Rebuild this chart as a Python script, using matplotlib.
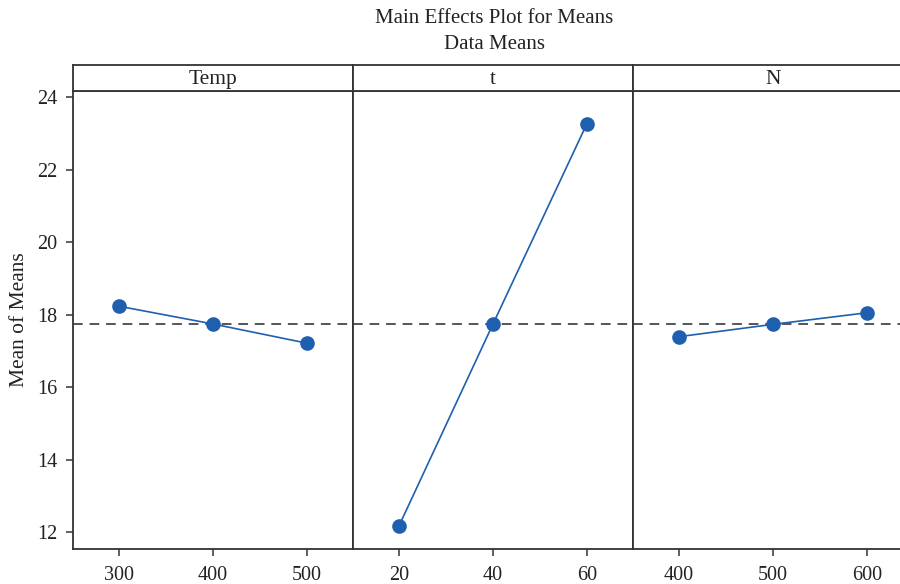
import matplotlib.pyplot as plt

plt.rcParams['font.family'] = ['Liberation Serif', 'DejaVu Serif']

# factor names, levels and mean responses
factors = ['Temp', 't', 'N']
levels = [[300, 400, 500], [20, 40, 60], [400, 500, 600]]
means = [[18.23, 17.74, 17.21], [12.17, 17.74, 23.27], [17.39, 17.73, 18.05]]
grand_mean = 17.73
y_ticks = [12, 14, 16, 18, 20, 22, 24]

line_col = '#1f5faf'
frame_col = '#333333'
text_col = '#222222'

fig = plt.figure(figsize=(9, 5.84), dpi=100)

left = 73 / 900
width = 280 / 900
bottom = 35 / 584
height = 458 / 584
strip_h = 26 / 584

for i, (name, lv, mv) in enumerate(zip(factors, levels, means)):
    x0 = left + i * width
    ax = fig.add_axes([x0, bottom, width, height])
    step = lv[1] - lv[0]
    ax.set_xlim(lv[0] - 0.49 * step, lv[-1] + 0.49 * step)
    ax.set_ylim(11.53, 24.17)
    ax.axhline(grand_mean, color='#555555', lw=1.4, ls=(0, (5, 3.5)), zorder=1)
    ax.plot(lv, mv, color=line_col, lw=1.2, marker='o', ms=9.5,
            markerfacecolor=line_col, markeredgecolor=line_col, zorder=3)
    ax.set_xticks(lv)
    ax.set_xticklabels([str(v) for v in lv])
    ax.tick_params(axis='x', direction='out', length=5, width=1.1,
                   color=frame_col, labelsize=14.5, pad=7, labelcolor=text_col)
    if i == 0:
        ax.set_yticks(y_ticks)
        ax.tick_params(axis='y', direction='out', length=5, width=1.1,
                       color=frame_col, labelsize=14.5, pad=6, labelcolor=text_col)
        ax.set_ylabel('Mean of Means', fontsize=15.5, color=text_col, labelpad=6)
    else:
        ax.set_yticks([])
    for s in ax.spines.values():
        s.set_color(frame_col)
        s.set_linewidth(1.3)

    # header strip with factor name
    hs = fig.add_axes([x0, bottom + height, width, strip_h])
    hs.set_xticks([])
    hs.set_yticks([])
    for s in hs.spines.values():
        s.set_color(frame_col)
        s.set_linewidth(1.3)
    hs.text(0.5, 0.45, name, ha='center', va='center', fontsize=15.5,
            color=text_col, transform=hs.transAxes)

fig.text(0.549, 0.968, 'Main Effects Plot for Means', ha='center', va='center',
         fontsize=15, color=text_col)
fig.text(0.549, 0.924, 'Data Means', ha='center', va='center',
         fontsize=15, color=text_col)

fig.savefig('out.png', dpi=100)
